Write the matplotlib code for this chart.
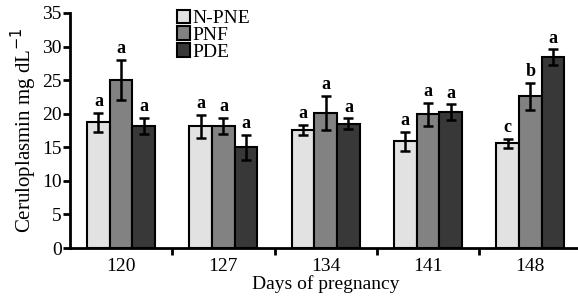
import numpy as np
import matplotlib.pyplot as plt

plt.rcParams['font.family'] = ['Liberation Serif', 'DejaVu Serif']

days = ['120', '127', '134', '141', '148']
groups = ['N-PNE', 'PNF', 'PDE']
# valores medios
npne = [18.7, 18.1, 17.6, 15.9, 15.6]
pnf = [25.0, 18.2, 20.1, 19.9, 22.6]
pde = [18.2, 15.0, 18.5, 20.2, 28.4]
# error estandar
npne_err = [1.4, 1.7, 0.75, 1.4, 0.7]
pnf_err = [3.0, 1.2, 2.6, 1.7, 2.0]
pde_err = [1.2, 1.9, 0.8, 1.2, 1.2]
# letras de significancia
npne_lab = ['a', 'a', 'a', 'a', 'c']
pnf_lab = ['a', 'a', 'a', 'a', 'b']
pde_lab = ['a', 'a', 'a', 'a', 'a']

colores = ['#e2e2e2', '#828282', '#383838']
vals = [npne, pnf, pde]
errs = [npne_err, pnf_err, pde_err]
labs = [npne_lab, pnf_lab, pde_lab]

fig = plt.figure(figsize=(5.78, 3.01), dpi=100)
ax = fig.add_axes([0.121, 0.176, 0.885, 0.781])
x = np.arange(len(days))
w = 0.222
for k in range(3):
	pos = x + (k - 1) * w
	ax.bar(pos, vals[k], w, color=colores[k], edgecolor='black', linewidth=1.5,
		label=groups[k], zorder=2)
	ax.errorbar(pos, vals[k], yerr=errs[k], fmt='none', ecolor='black',
		elinewidth=1.8, capsize=3.5, capthick=1.8, zorder=3)
	for p, v, e, t in zip(pos, vals[k], errs[k], labs[k]):
		ax.text(p, v + e + 0.4, t, ha='center', va='bottom', fontsize=13,
			fontweight='bold')

ax.set_xlim(-0.5, 4.5)
ax.set_ylim(0, 35)
ax.set_yticks(range(0, 36, 5))
ax.set_xticks(x)
ax.set_xticklabels(days)
ax.set_xticks(np.arange(0.5, 4.5, 1), minor=True)
ax.tick_params(axis='x', which='major', length=0, labelsize=14, pad=7)
ax.tick_params(axis='x', which='minor', length=5, width=2, direction='out')
ax.tick_params(axis='y', length=5, width=2, labelsize=14, pad=1)
for s in ['top', 'right']:
	ax.spines[s].set_visible(False)
for s in ['left', 'bottom']:
	ax.spines[s].set_linewidth(2)
ax.set_xlabel('Days of pregnancy', fontsize=14, labelpad=0)
ax.set_ylabel('Ceruloplasmin mg dL$^{-1}$', fontsize=15, labelpad=2)
ax.legend(loc='upper left', bbox_to_anchor=(0.19, 1.055), frameon=False,
	fontsize=14, handlelength=0.7, handleheight=0.7, handletextpad=0.1,
	labelspacing=-0.05, borderpad=0)
fig.savefig('out.png', dpi=100)
